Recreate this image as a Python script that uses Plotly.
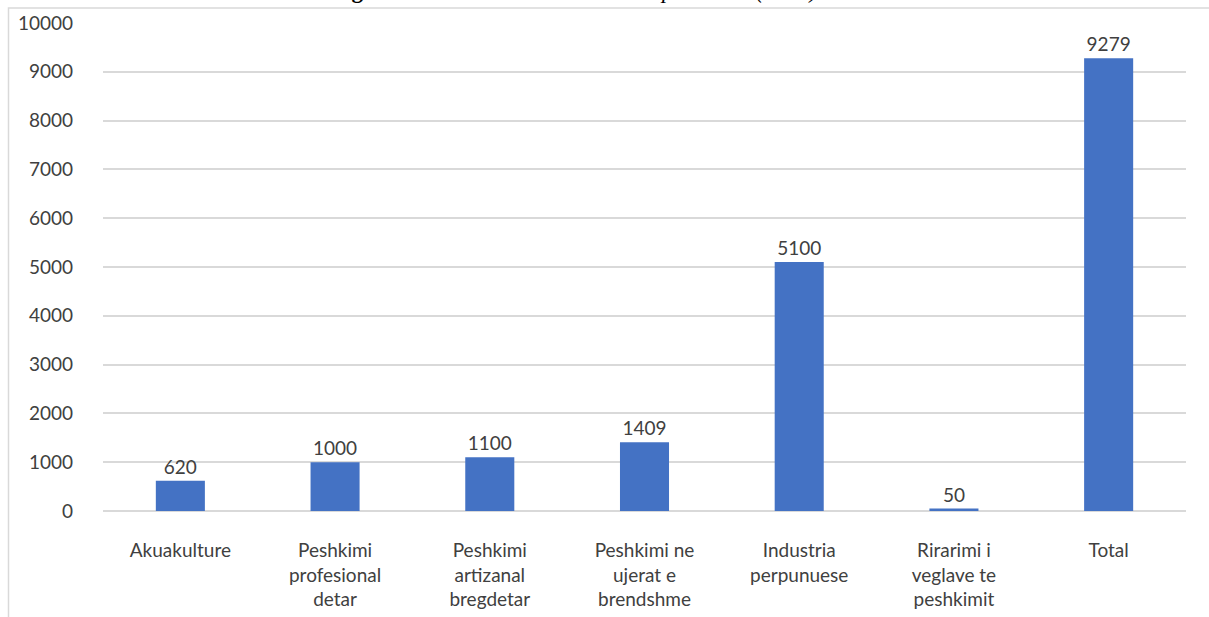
import plotly.graph_objects as go

categories = ["Akuakulture", "Peshkimi<br>profesional<br>detar", "Peshkimi<br>artizanal<br>bregdetar",
              "Peshkimi ne<br>ujerat e<br>brendshme", "Industria<br>perpunuese",
              "Rirarimi i<br>veglave te<br>peshkimit", "Total"]
values = [620, 1000, 1100, 1409, 5100, 50, 9279]
y_ticks = [0, 1000, 2000, 3000, 4000, 5000, 6000, 7000, 8000, 9000, 10000]
title_text = "<b>Figura 5-1:</b> <i>Punesimi ne sektorin e peshkimit (2019)</i>"

W, H = 1209, 617
L, R, T, B = 103, 23, 23, 106
pw, ph = W - L - R, H - T - B

def px_x(p):
    return (p - L) / pw

def px_y(p):
    return (H - B - p) / ph

fig = go.Figure()
fig.add_trace(go.Bar(
    x=categories, y=values,
    marker=dict(color="#4472C4", line=dict(width=0)),
    text=[str(v) for v in values], textposition="outside",
    textfont=dict(family="Lato", size=19, color="#404040"),
    cliponaxis=False,
))

fig.update_layout(
    width=W, height=H,
    margin=dict(l=L, r=R, t=T, b=B, pad=0, autoexpand=False),
    paper_bgcolor="white", plot_bgcolor="white",
    bargap=0.683,
    showlegend=False,
    font=dict(family="Lato", size=19, color="#404040"),
    xaxis=dict(showgrid=False, showline=False, ticks="", zeroline=False, automargin=False,
               tickfont=dict(family="Lato", size=19, color="#404040"),
               ticklabelstandoff=26),
    yaxis=dict(range=[0, 10000], tickvals=y_ticks, ticktext=[str(v) for v in y_ticks],
               showgrid=True, automargin=False,
               gridcolor="#d9d9d9", gridwidth=1.5, zeroline=True,
               zerolinecolor="#d9d9d9", zerolinewidth=2, showline=False,
               ticks="", tickfont=dict(family="Lato", size=19, color="#404040"),
               ticklabelstandoff=29),
    shapes=[dict(type="rect", xref="paper", yref="paper",
                 x0=px_x(8.5), x1=px_x(1240), y0=px_y(8), y1=px_y(700),
                 line=dict(color="#d9d9d9", width=1.5), fillcolor="rgba(0,0,0,0)",
                 layer="below")],
    annotations=[dict(text=title_text, xref="paper", yref="paper",
                      x=px_x(574), y=px_y(-9), xanchor="center", yanchor="middle",
                      showarrow=False,
                      font=dict(family="Liberation Serif", size=23, color="#000000"))],
)

fig.write_html("out.html", config={"displayModeBar": False},
               post_script="document.body.style.margin='0';document.body.style.overflow='hidden';")
